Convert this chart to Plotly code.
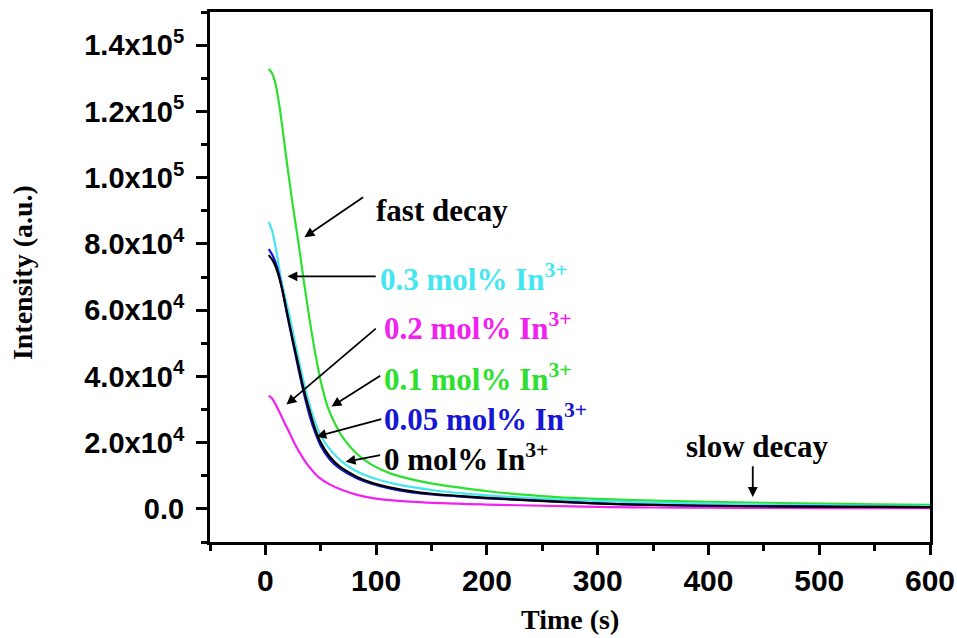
import plotly.graph_objects as go

# ---------------- data ----------------
t_g = [3, 6, 9, 12, 15, 20, 25, 30, 35, 40, 45, 50, 56, 61, 70, 82, 95, 112, 135, 158, 180, 203, 233, 263, 300, 350, 400, 450, 500, 550, 600]
i_g = [132800, 131500, 128500, 123000, 116000, 103000, 91000, 80000, 68000, 57000, 47000, 38500, 31000, 27000, 21500, 16800, 13500, 10800, 8700, 7260, 6200, 5240, 4300, 3540, 3000, 2500, 2150, 1850, 1600, 1400, 1200]

t_c = [3, 6, 9, 13, 17, 22, 26, 31, 37, 43, 50, 61, 72, 85, 100, 120, 150, 180, 220, 260, 300, 350, 400, 450, 500, 550, 600]
i_c = [86600, 84000, 79500, 71500, 65000, 58000, 51500, 43500, 35000, 28000, 22000, 16900, 13500, 10900, 9000, 7300, 5700, 4600, 3600, 2900, 2400, 1900, 1600, 1300, 1100, 950, 850]

t_b = [3, 7, 11, 15, 20, 25, 30, 35, 40, 45, 50, 58, 67, 82, 95, 112, 140, 173, 200, 233, 270, 311, 350, 400, 450, 500, 550, 600]
i_b = [78400, 76200, 72500, 66500, 58000, 50000, 42000, 34500, 28000, 23000, 19000, 15000, 12200, 9300, 7700, 6200, 4700, 3800, 3200, 2650, 2050, 1500, 1200, 950, 800, 650, 580, 500]

t_k = [3, 7, 11, 15, 20, 25, 30, 35, 40, 45, 50, 58, 67, 82, 95, 112, 140, 173, 200, 233, 270, 311, 350, 400, 450, 500, 550, 600]
i_k = [76600, 74800, 71500, 66500, 58500, 50500, 43000, 35500, 29500, 24000, 20000, 15800, 12800, 9800, 8000, 6500, 4900, 3930, 3300, 2720, 2100, 1510, 1200, 950, 800, 650, 580, 510]

t_m = [3, 6, 9, 13, 18, 22, 26, 30, 35, 40, 48, 58, 70, 82, 97, 120, 158, 200, 250, 311, 350, 400, 450, 500, 550, 600]
i_m = [34200, 33300, 31700, 29000, 25500, 22800, 20000, 17500, 14800, 12500, 9600, 7400, 5600, 4300, 3240, 2400, 1720, 1300, 950, 500, 420, 350, 300, 250, 220, 200]

y_tickvals = [0, 20000, 40000, 60000, 80000, 100000, 120000, 140000]
y_ticktext = ["0.0", "2.0x10<sup>4</sup>", "4.0x10<sup>4</sup>", "6.0x10<sup>4</sup>", "8.0x10<sup>4</sup>",
              "1.0x10<sup>5</sup>", "1.2x10<sup>5</sup>", "1.4x10<sup>5</sup>"]
x_tickvals = [0, 100, 200, 300, 400, 500, 600]

GREEN, CYAN, MAGENTA, BLUE, BLACK = "#2ee02e", "#44e6f0", "#f022f0", "#1616d4", "#000000"

series = [
    ("0.1 mol% In3+", t_g, i_g, GREEN),
    ("0.3 mol% In3+", t_c, i_c, CYAN),
    ("0.2 mol% In3+", t_m, i_m, MAGENTA),
    ("0.05 mol% In3+", t_b, i_b, BLUE),
    ("0 mol% In3+", t_k, i_k, BLACK),
]

fig = go.Figure()
for name, t, v, col in series:
    fig.add_trace(go.Scatter(x=t, y=v, mode="lines", name=name,
                             line=dict(color=col, width=2.2, shape="spline", smoothing=1.0)))

serif = "Liberation Serif, Times New Roman, serif"
sans = "Liberation Sans, Arial, sans-serif"
ann_font = 31

texts = [
    ("fast decay", 98, 90200, BLACK),
    ("0.3 mol% In<sup>3+</sup>", 102, 69800, CYAN),
    ("0.2 mol% In<sup>3+</sup>", 105, 55000, MAGENTA),
    ("0.1 mol% In<sup>3+</sup>", 105, 39800, GREEN),
    ("0.05 mol% In<sup>3+</sup>", 105, 27700, BLUE),
    ("0 mol% In<sup>3+</sup>", 105, 15600, BLACK),
]
annotations = []
for txt, x, y, col in texts:
    annotations.append(dict(x=x, y=y, xref="x", yref="y", text=txt,
                            showarrow=False, xanchor="left", yanchor="middle",
                            font=dict(family=serif, size=ann_font, color=col, weight="bold")))
annotations.append(dict(x=444, y=18800, xref="x", yref="y", text="slow decay",
                        showarrow=False, xanchor="center", yanchor="middle",
                        font=dict(family=serif, size=ann_font, color=BLACK, weight="bold")))

arrows = [
    (89.6, 94400, 35.3, 82000),
    (101, 70200, 19.9, 70200),
    (101, 54800, 19, 31500),
    (105, 40500, 59.7, 30900),
    (106, 27200, 46, 21800),
    (105, 16300, 72.4, 14200),
    (440, 13300, 440, 3600),
]
for ax, ay, x, y in arrows:
    annotations.append(dict(x=x, y=y, ax=ax, ay=ay, xref="x", yref="y", axref="x", ayref="y",
                            text="", showarrow=True, arrowhead=2, arrowsize=1.1, arrowwidth=1.8,
                            arrowcolor=BLACK))

# axis titles
annotations.append(dict(x=0.5, y=-0.147, xref="paper", yref="paper", text="Time (s)", showarrow=False,
                        xanchor="center", yanchor="middle",
                        font=dict(family=serif, size=28, color=BLACK, weight="bold")))
annotations.append(dict(x=-0.261, y=0.5075, xref="paper", yref="paper", text="Intensity (a.u.)",
                        showarrow=False, textangle=-90, xanchor="center", yanchor="middle",
                        font=dict(family=serif, size=28, color=BLACK, weight="bold")))

fig.update_layout(
    width=957, height=638, autosize=False,
    margin=dict(l=210, r=27, t=12, b=96),
    paper_bgcolor="white", plot_bgcolor="white",
    showlegend=False,
    annotations=annotations,
    xaxis=dict(range=[-50, 600], tickvals=x_tickvals, ticks="outside", ticklen=10, tickwidth=2.5,
               tickcolor=BLACK, showline=True, linecolor=BLACK, linewidth=3, mirror=True,
               showgrid=False, zeroline=False, ticklabelstandoff=0, automargin=False,
               minor=dict(dtick=50, tick0=0, ticks="outside", ticklen=6, tickwidth=2.5, tickcolor=BLACK, showgrid=False),
               tickfont=dict(family=sans, size=30, color=BLACK, weight="bold")),
    yaxis=dict(range=[-10000, 150000], tickvals=y_tickvals, ticktext=y_ticktext, ticks="outside",
               ticklen=11, tickwidth=2.5, tickcolor=BLACK, showline=True, linecolor=BLACK, linewidth=3,
               mirror=True, showgrid=False, zeroline=False, ticklabelstandoff=6, automargin=False,
               minor=dict(dtick=10000, tick0=0, ticks="outside", ticklen=6, tickwidth=2.5, tickcolor=BLACK, showgrid=False),
               tickfont=dict(family=sans, size=29, color=BLACK, weight="bold")),
)

fig.write_html(
    "out.html",
    config={"displayModeBar": False, "responsive": False},
    post_script="document.documentElement.style.overflow='hidden';document.body.style.margin='0';document.body.style.overflow='hidden';",
)
